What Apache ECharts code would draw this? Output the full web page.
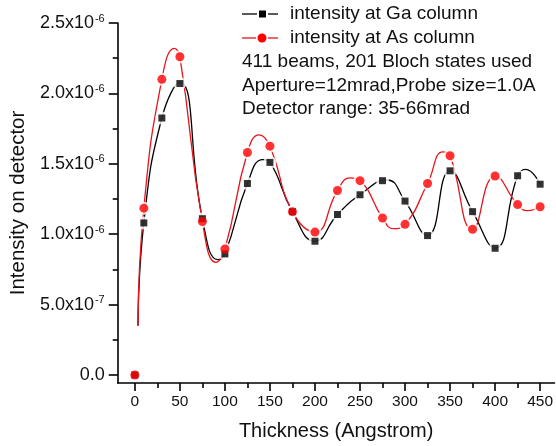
<!DOCTYPE html>
<html>
<head>
<meta charset="utf-8">
<script src="https://cdn.jsdelivr.net/npm/echarts@6/dist/echarts.min.js"></script>
<style>html,body{margin:0;padding:0;background:#fff;}#c{width:556px;height:446px;}</style>
</head>
<body>
<div id="c"></div>
<script>
// ---- data ----
var thickness = [0, 10, 30, 50, 75, 100, 125, 150, 175, 200, 225, 250, 275, 300, 325, 350, 375, 400, 425, 450];
var gaValues = [0, 1.08e-6, 1.825e-6, 2.07e-6, 1.11e-6, 0.86e-6, 1.36e-6, 1.51e-6, 1.16e-6, 0.95e-6, 1.14e-6, 1.28e-6, 1.38e-6, 1.235e-6, 0.99e-6, 1.45e-6, 1.16e-6, 0.90e-6, 1.415e-6, 1.355e-6];
var asValues = [0, 1.185e-6, 2.10e-6, 2.26e-6, 1.09e-6, 0.895e-6, 1.58e-6, 1.625e-6, 1.16e-6, 1.015e-6, 1.31e-6, 1.38e-6, 1.115e-6, 1.07e-6, 1.36e-6, 1.557e-6, 1.035e-6, 1.413e-6, 1.21e-6, 1.195e-6];

// spline curve traces (thickness, value)
var gaCurveX = [3.5, 10, 30, 50, 75, 92, 100, 125, 142, 150, 175, 200, 225, 250, 280, 300, 325, 350, 375, 400, 425, 434, 450];
var gaCurveY = [0.35e-6, 1.08e-6, 1.825e-6, 2.08e-6, 1.11e-6, 0.82e-6, 0.86e-6, 1.36e-6, 1.53e-6, 1.51e-6, 1.16e-6, 0.95e-6, 1.14e-6, 1.28e-6, 1.385e-6, 1.235e-6, 0.99e-6, 1.45e-6, 1.16e-6, 0.90e-6, 1.415e-6, 1.46e-6, 1.355e-6];
var asCurveX = [3.5, 10, 30, 44, 50, 75, 90, 100, 125, 138, 150, 175, 200, 225, 239, 250, 275, 287, 300, 325, 342, 350, 375, 400, 425, 436, 450];
var asCurveY = [0.35e-6, 1.185e-6, 2.10e-6, 2.32e-6, 2.26e-6, 1.09e-6, 0.80e-6, 0.895e-6, 1.58e-6, 1.705e-6, 1.625e-6, 1.16e-6, 1.015e-6, 1.31e-6, 1.40e-6, 1.38e-6, 1.115e-6, 1.04e-6, 1.07e-6, 1.36e-6, 1.585e-6, 1.557e-6, 1.035e-6, 1.413e-6, 1.21e-6, 1.167e-6, 1.195e-6];

var xMajorTicks = [0, 50, 100, 150, 200, 250, 300, 350, 400, 450];
var xMinorTicks = [25, 75, 125, 175, 225, 275, 325, 375, 425];
var yMajorTicks = [0, 0.5e-6, 1.0e-6, 1.5e-6, 2.0e-6, 2.5e-6];
var yMinorTicks = [0.25e-6, 0.75e-6, 1.25e-6, 1.75e-6, 2.25e-6];

var seriesNames = ['intensity at Ga column', 'intensity at As column'];
var infoLines = ['411 beams, 201 Bloch states used', 'Aperture=12mrad,Probe size=1.0A', 'Detector range: 35-66mrad'];
var xTitle = 'Thickness (Angstrom)';
var yTitle = 'Intensity on detector';

function pairs(xs, ys) { return xs.map(function (x, i) { return [x, ys[i]]; }); }

function yFmt(v) {
  if (Math.abs(v) < 1e-15) return '0.0';
  var e = Math.floor(Math.log10(v) + 1e-9);
  var m = v / Math.pow(10, e);
  return m.toFixed(1) + 'x10{sup|' + e + '}';
}

var FONT = '"Liberation Sans", Arial, sans-serif';
var BLACK = '#000';
var RED = '#e8141b';
var AX = {color: '#000', width: 1.6};

var chart = echarts.init(document.getElementById('c'), null, {renderer: 'canvas'});
var option = {
  animation: false,
  backgroundColor: '#fff',
  grid: {left: 116, top: 23, width: 440, height: 360, containLabel: false},
  xAxis: [{
    type: 'value', min: -19, max: 466, position: 'bottom',
    name: xTitle, nameLocation: 'middle', nameGap: 38,
    nameTextStyle: {fontFamily: FONT, fontSize: 20, color: '#111'},
    axisLine: {show: true, onZero: false, lineStyle: AX},
    axisTick: {show: true, inside: false, length: 8, customValues: xMajorTicks, lineStyle: AX},
    axisLabel: {show: true, customValues: xMajorTicks, margin: 11, fontFamily: FONT, fontSize: 15.5, color: '#111'},
    splitLine: {show: false}
  }, {
    type: 'value', min: -19, max: 466, position: 'bottom',
    axisLine: {show: false, onZero: false},
    axisTick: {show: true, inside: false, length: 5, customValues: xMinorTicks, lineStyle: AX},
    axisLabel: {show: false},
    splitLine: {show: false}
  }],
  yAxis: [{
    type: 'value', min: -0.057e-6, max: 2.5e-6, position: 'left',
    name: yTitle, nameLocation: 'middle', nameGap: 80, nameRotate: 90,
    nameTextStyle: {fontFamily: FONT, fontSize: 20.5, color: '#111'},
    axisLine: {show: true, onZero: false, lineStyle: AX},
    axisTick: {show: true, inside: false, length: 9, customValues: yMajorTicks, lineStyle: AX},
    axisLabel: {
      show: true, customValues: yMajorTicks, margin: 13, fontFamily: FONT, fontSize: 18, color: '#111',
      formatter: yFmt,
      rich: {sup: {fontFamily: FONT, fontSize: 11, color: '#111', verticalAlign: 'top', padding: [0, 0, 9, 1]}}
    },
    splitLine: {show: false}
  }, {
    type: 'value', min: -0.057e-6, max: 2.5e-6, position: 'left',
    axisLine: {show: false, onZero: false},
    axisTick: {show: true, inside: false, length: 5, customValues: yMinorTicks, lineStyle: AX},
    axisLabel: {show: false},
    splitLine: {show: false}
  }],
  series: [
    {name: seriesNames[0] + ' curve', type: 'line', data: pairs(gaCurveX, gaCurveY), smooth: 0.5, showSymbol: false, symbol: 'none',
     lineStyle: {color: BLACK, width: 1.3}, z: 2},
    {name: seriesNames[1] + ' curve', type: 'line', data: pairs(asCurveX, asCurveY), smooth: 0.5, showSymbol: false, symbol: 'none',
     lineStyle: {color: RED, width: 1.3}, z: 2},
    {type: 'scatter', data: pairs(thickness, gaValues), symbol: 'circle', symbolSize: 13, itemStyle: {color: '#fff'}, z: 3, silent: true},
    {type: 'scatter', data: pairs(thickness, asValues), symbol: 'circle', symbolSize: 13, itemStyle: {color: '#fff'}, z: 3, silent: true},
    {name: seriesNames[0], type: 'scatter', data: pairs(thickness, gaValues), symbol: 'rect', symbolSize: 7, itemStyle: {color: BLACK}, z: 4},
    {name: seriesNames[1], type: 'scatter', data: pairs(thickness, asValues), symbol: 'circle', symbolSize: 9, itemStyle: {color: '#f00'}, z: 5}
  ],
  graphic: [
    {type: 'line', shape: {x1: 242, y1: 14, x2: 257, y2: 14}, style: {stroke: BLACK, lineWidth: 1.3}},
    {type: 'rect', shape: {x: 259, y: 10.5, width: 7, height: 7}, style: {fill: BLACK}},
    {type: 'line', shape: {x1: 268, y1: 14, x2: 278, y2: 14}, style: {stroke: BLACK, lineWidth: 1.3}},
    {type: 'text', x: 290, y: 14, style: {text: seriesNames[0], fontFamily: FONT, fontSize: 19, fill: '#111', verticalAlign: 'middle'}},
    {type: 'line', shape: {x1: 242, y1: 38, x2: 256, y2: 38}, style: {stroke: RED, lineWidth: 1.3}},
    {type: 'circle', shape: {cx: 262, cy: 38, r: 4.5}, style: {fill: '#f00'}},
    {type: 'line', shape: {x1: 268, y1: 38, x2: 278, y2: 38}, style: {stroke: RED, lineWidth: 1.3}},
    {type: 'text', x: 290, y: 38, style: {text: seriesNames[1], fontFamily: FONT, fontSize: 19, fill: '#111', verticalAlign: 'middle'}},
    {type: 'text', x: 242, y: 62, style: {text: infoLines[0], fontFamily: FONT, fontSize: 19, fill: '#111', verticalAlign: 'middle'}},
    {type: 'text', x: 242, y: 86, style: {text: infoLines[1], fontFamily: FONT, fontSize: 19, fill: '#111', verticalAlign: 'middle'}},
    {type: 'text', x: 242, y: 109, style: {text: infoLines[2], fontFamily: FONT, fontSize: 19, fill: '#111', verticalAlign: 'middle'}}
  ]
};
chart.setOption(option);
</script>
</body>
</html>
